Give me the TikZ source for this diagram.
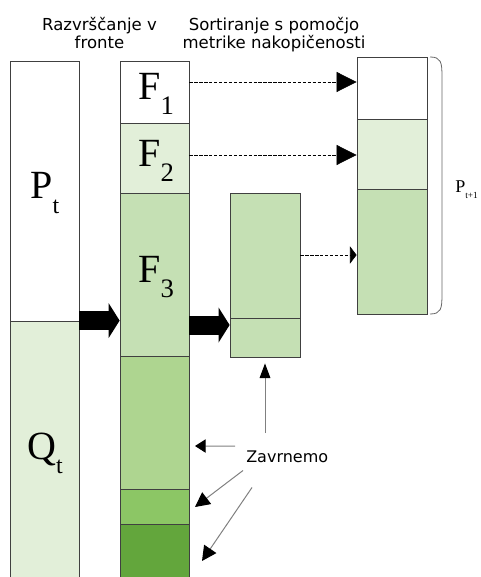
\documentclass[tikz,border=0pt]{standalone}
\usepackage{fontspec}
\setmainfont{Liberation Serif}
\newfontfamily\headfont{DejaVu Sans}
\usetikzlibrary{arrows.meta,fit}
\definecolor{green1}{HTML}{E2EFD9}
\definecolor{green2}{HTML}{C5E0B4}
\definecolor{green3}{HTML}{AED590}
\definecolor{green4}{HTML}{8CC665}
\definecolor{green5}{HTML}{63A63C}
\begin{document}
\begin{tikzpicture}[x=0.75pt,y=-0.75pt,
    box/.style={draw=black!75, line width=0.6pt, inner sep=0pt},
    lbl/.style={inner sep=0pt, anchor=base west, font=\fontsize{30}{30}\selectfont},
    head/.style={inner sep=0pt, anchor=north, align=center, font=\headfont\fontsize{12.4}{13.5}\selectfont},
    bigarrow/.style={line width=14.25pt, -{Triangle[length=8.25pt,width=26.25pt,line width=0pt]}},
    dasharrow/.style={line width=0.5pt, dash pattern=on 2.5pt off 1.2pt, -{Triangle[length=15pt,width=15pt]}},
    rejarrow/.style={draw=black!50, line width=0.75pt, -{Triangle[length=11pt,width=11pt,color=black]}}]
    \useasboundingbox (0,0) rectangle (480,577);
    \clip (0,0) rectangle (480,577);
    % titles
    \node[head] (hd1) at (99.5,17.5) {Razvrščanje v\\fronte};
    \node[head] (hd2) at (274,17.5) {Sortiranje s pomočjo\\metrike nakopičenosti};
    % P_t and Q_t
    \node[box, fill=white, fit={(10,61) (79,321)}] (pt) {};
    \node[box, fill=green1, fit={(10,321) (79,590)}] (qt) {};
    % fronts
    \node[box, fill=white, fit={(120,61) (189,123)}] (f1) {};
    \node[box, fill=green1, fit={(120,123) (189,193)}] (f2) {};
    \node[box, fill=green2, fit={(120,193) (189,356)}] (f3) {};
    \node[box, fill=green3, fit={(120,356) (189,489)}] (f4) {};
    \node[box, fill=green4, fit={(120,489) (189,524)}] (f5) {};
    \node[box, fill=green5, fit={(120,524) (189,590)}] (f6) {};
    % sorted F_3
    \node[box, fill=green2, fit={(230,193) (300,318)}] (m1) {};
    \node[box, fill=green2, fit={(230,318) (300,357)}] (m2) {};
    % P_{t+1}
    \node[box, fill=white, fit={(357,57) (427,119)}] (r1) {};
    \node[box, fill=green1, fit={(357,119) (427,189)}] (r2) {};
    \node[box, fill=green2, fit={(357,189) (427,314)}] (r3) {};
    % labels
    \node[lbl] (lpt) at (30,199) {P\raisebox{-10.5pt}{\fontsize{18}{18}\selectfont t}};
    \node[lbl] (lqt) at (27,459) {Q\raisebox{-10.5pt}{\fontsize{18}{18}\selectfont t}};
    \node[lbl] (lf1) at (138,100) {F\raisebox{-11.25pt}{\fontsize{20}{20}\selectfont 1}};
    \node[lbl] (lf2) at (138,167) {F\raisebox{-11.25pt}{\fontsize{20}{20}\selectfont 2}};
    \node[lbl] (lf3) at (138,282) {F\raisebox{-11.25pt}{\fontsize{20}{20}\selectfont 3}};
    \node[inner sep=0pt, anchor=base west, font=\fontsize{13.5}{13.5}\selectfont] (lpt1) at (455,193) {P\raisebox{-4.5pt}{\fontsize{7}{7}\selectfont t+1}};
    % big arrows
    \draw[bigarrow] (qt.north east) -- (f3.west |- qt.north east);
    \draw[bigarrow] (f3.east |- 0,325) -- (m1.west |- 0,325);
    % dashed arrows
    \draw[dasharrow] (f1.east |- 0,82) -- (r1.west |- 0,82);
    \draw[dasharrow] (f2.east |- 0,155) -- (r2.west |- 0,155);
    \draw[dasharrow, -{Triangle[length=5pt,width=13pt]}] (m1.east |- 0,255) -- (r3.west |- 0,255);
    % brace
    \draw[draw=black!60, line width=0.6pt] (430,57) .. controls (441,57) and (442,62) .. (442,77) -- (442,294) .. controls (442,309) and (441,314) .. (430,314);
    % rejected fronts
    \node[inner sep=0pt, anchor=base west, font=\headfont\fontsize{12}{12}\selectfont] (zav) at (246,462) {Zavrnemo};
    \coordinate (rej1) at (195,446);
    \coordinate (rej2) at (195,507);
    \coordinate (rej3) at (202,561);
    \draw[rejarrow, -{Triangle[length=11pt,width=8pt,color=black]}] ([shift={(19,-17)}]zav.north west) -- ([shift={(0,6)}]m2.south);
    \draw[rejarrow, -{Triangle[length=8pt,width=10pt,color=black]}] ([shift={(-11,-4)}]zav.north west) -- (rej1);
    \draw[rejarrow] ([shift={(-3,8)}]zav.south west) -- (rej2);
    \draw[rejarrow] ([shift={(6,25)}]zav.south west) -- (rej3);
\end{tikzpicture}
\end{document}
